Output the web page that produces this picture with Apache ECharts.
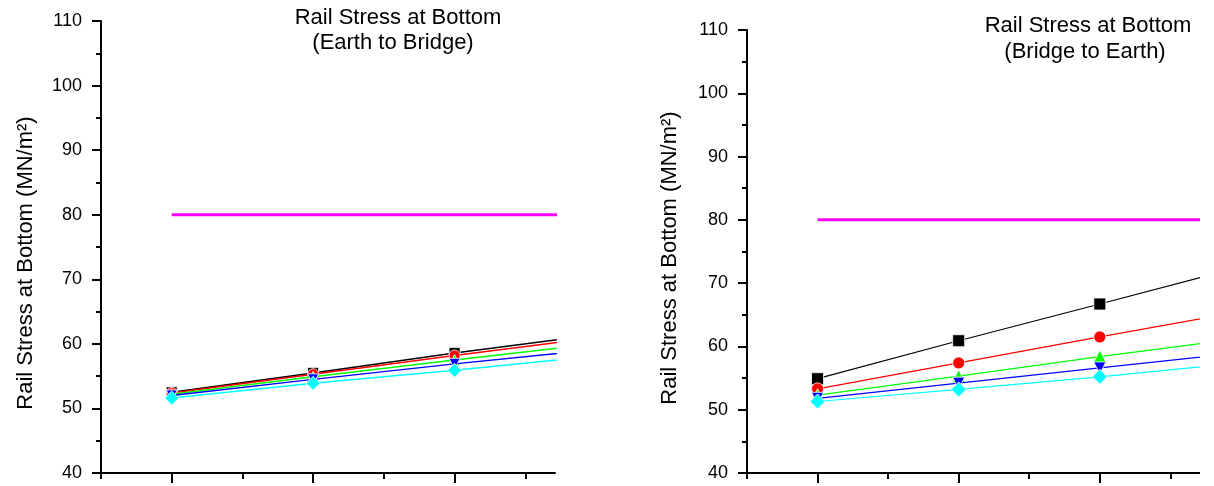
<!DOCTYPE html>
<html>
<head>
<meta charset="utf-8">
<script src="https://cdn.jsdelivr.net/npm/echarts@6/dist/echarts.min.js"></script>
<style>
  html, body { margin: 0; padding: 0; background: #fff; }
  #chart { width: 1200px; height: 486px; overflow: hidden; }
</style>
</head>
<body>
<div id="chart"></div>
<script>
// ---- data ----
const xValues = [1, 2, 3, 4];
const limitValues = [80, 80, 80, 80];

// Earth to Bridge (left panel)
const e2bBlack = [52.5, 55.5, 58.6, 61.4];
const e2bRed   = [52.4, 55.3, 58.2, 61.0];
const e2bGreen = [52.2, 54.9, 57.5, 60.0];
const e2bBlue  = [52.0, 54.5, 56.9, 59.1];
const e2bCyan  = [51.6, 53.9, 55.9, 58.1];

// Bridge to Earth (right panel)
const b2eBlack = [54.9, 60.9, 66.7, 72.6];
const b2eRed   = [53.3, 57.4, 61.5, 65.5];
const b2eGreen = [52.3, 55.3, 58.4, 61.3];
const b2eBlue  = [51.8, 54.2, 56.6, 59.0];
const b2eCyan  = [51.3, 53.2, 55.2, 57.4];

const yTickValues = [40, 50, 60, 70, 80, 90, 100, 110];
const xMajorTicks = [1, 2, 3];
const xMinorTicks = [0.5, 1.5, 2.5, 3.5];

const titleLine1 = 'Rail Stress at Bottom';
const titleLeft2 = '(Earth to Bridge)';
const titleRight2 = '(Bridge to Earth)';
const yName = 'Rail Stress at Bottom (MN/m²)';

// ---- chart ----
const FONT = '"Liberation Sans", Arial, sans-serif';
const chart = echarts.init(document.getElementById('chart'), null, { renderer: 'canvas' });

function pairs(arr) { return xValues.map((x, i) => [x, arr[i]]); }

const seriesDefs = [
  { color: '#000000', symbol: 'rect', rot: 0 },
  { color: '#FF0000', symbol: 'circle', rot: 0 },
  { color: '#00FF00', symbol: 'triangle', rot: 0 },
  { color: '#0000FF', symbol: 'triangle', rot: 180 },
  { color: '#00FFFF', symbol: 'diamond', rot: 0 }
];
const leftData = [e2bBlack, e2bRed, e2bGreen, e2bBlue, e2bCyan];
const rightData = [b2eBlack, b2eRed, b2eGreen, b2eBlue, b2eCyan];
const leftSizes = [11, 11, 11, 11, 14];
const rightSizes = [12, 12, 13, 12, 15];

function xAxes(gi) {
  return [
    {
      type: 'value', gridIndex: gi, min: 0.5, max: 3.71, position: 'bottom',
      axisLine: { show: true, onZero: false, lineStyle: { color: '#000', width: 2 } },
      axisTick: { show: true, length: 10, lineStyle: { color: '#000', width: 2 }, customValues: xMajorTicks },
      axisLabel: { show: false },
      splitLine: { show: false }
    },
    {
      type: 'value', gridIndex: gi, min: 0.5, max: 3.71, position: 'bottom', offset: 0,
      axisLine: { show: false, onZero: false },
      axisTick: { show: true, length: 6, lineStyle: { color: '#000', width: 2 }, customValues: xMinorTicks },
      axisLabel: { show: false },
      splitLine: { show: false }
    }
  ];
}

function yAxis(gi) {
  return {
    type: 'value', gridIndex: gi, min: 40, max: 110, interval: 10,
    axisLine: { show: true, onZero: false, lineStyle: { color: '#000', width: 2 } },
    axisTick: { show: true, length: 9, lineStyle: { color: '#000', width: 2 } },
    minorTick: { show: true, splitNumber: 2, length: 5, lineStyle: { color: '#000', width: 2 } },
    axisLabel: { show: true, margin: 19, fontSize: 18, color: '#000', fontFamily: FONT,
                 customValues: yTickValues },
    splitLine: { show: false },
    minorSplitLine: { show: false }
  };
}

const series = [];
[[0, 0, leftData, leftSizes, 1.5], [2, 1, rightData, rightSizes, 1.2]].forEach(([xi, yi, dataSet, sizes, lw]) => {
  series.push({
    type: 'line', xAxisIndex: xi, yAxisIndex: yi, data: pairs(limitValues),
    symbol: 'none', showSymbol: false, clip: true, z: 1,
    lineStyle: { color: '#FF00FF', width: 3 }, animation: false, silent: true
  });
  dataSet.forEach((arr, k) => {
    const d = seriesDefs[k];
    series.push({
      type: 'line', xAxisIndex: xi, yAxisIndex: yi, data: pairs(arr),
      symbol: d.symbol, symbolRotate: d.rot, symbolSize: sizes[k], showSymbol: true, clip: true,
      z: 2 + k,
      lineStyle: { color: d.color, width: lw },
      itemStyle: { color: d.color, borderColor: '#fff', borderWidth: 0.8 },
      animation: false, silent: true
    });
  });
});

const option = {
  backgroundColor: '#fff',
  animation: false,
  grid: [
    { left: 101, top: 21, width: 454, height: 452, containLabel: false },
    { left: 747, top: 30, width: 453, height: 443, containLabel: false }
  ],
  xAxis: [...xAxes(0), ...xAxes(1)],
  yAxis: [yAxis(0), yAxis(1)],
  series: series,
  graphic: [
    { type: 'text', x: 398, y: 18, z: 100,
      style: { text: titleLine1, fontSize: 22, fontFamily: FONT, fill: '#000', align: 'center', verticalAlign: 'middle' } },
    { type: 'text', x: 393, y: 43, z: 100,
      style: { text: titleLeft2, fontSize: 22, fontFamily: FONT, fill: '#000', align: 'center', verticalAlign: 'middle' } },
    { type: 'text', x: 1088, y: 26, z: 100,
      style: { text: titleLine1, fontSize: 22, fontFamily: FONT, fill: '#000', align: 'center', verticalAlign: 'middle' } },
    { type: 'text', x: 1085, y: 52, z: 100,
      style: { text: titleRight2, fontSize: 22, fontFamily: FONT, fill: '#000', align: 'center', verticalAlign: 'middle' } },
    { type: 'text', x: 26, y: 263, rotation: Math.PI / 2, z: 100,
      style: { text: yName, fontSize: 22, fontFamily: FONT, fill: '#000', align: 'center', verticalAlign: 'middle' } },
    { type: 'text', x: 670, y: 258, rotation: Math.PI / 2, z: 100,
      style: { text: yName, fontSize: 22, fontFamily: FONT, fill: '#000', align: 'center', verticalAlign: 'middle' } }
  ]
};
chart.setOption(option);
</script>
</body>
</html>
